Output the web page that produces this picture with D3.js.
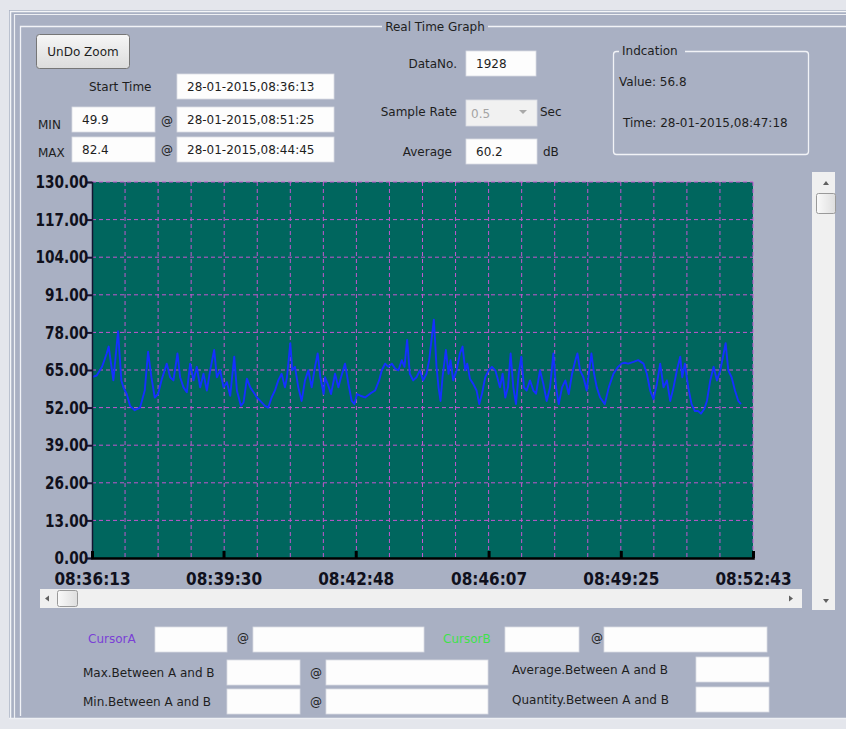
<!DOCTYPE html>
<html>
<head>
<meta charset="utf-8">
<script src="https://cdn.jsdelivr.net/npm/d3@7"></script>
<style>
  body { margin: 0; background: #e4e6ec; }
  svg { display: block; }
  text { font-family: "DejaVu Sans", sans-serif; }
</style>
</head>
<body>
<svg id="chart" width="846" height="729"></svg>
<script>
// ---------------- data ----------------
const chartTitle = "Real Time Graph";
const startTimeText = "28-01-2015,08:36:13";
const minValue = "49.9", minTime = "28-01-2015,08:51:25";
const maxValue = "82.4", maxTime = "28-01-2015,08:44:45";
const dataNo = "1928";
const sampleRate = "0.5";
const averageValue = "60.2";
const indicationValue = "56.8";
const indicationTime = "28-01-2015,08:47:18";

const timeSpanSeconds = 990;           // 08:36:13 -> 08:52:43
const yTickValues = [0, 13, 26, 39, 52, 65, 78, 91, 104, 117, 130];
const xTickLabels = ["08:36:13", "08:39:30", "08:42:48", "08:46:07", "08:49:25", "08:52:43"];
const gridDivisions = 20;

// seconds since start, sound level (dB)
const seconds = [
  0, 7, 15, 22, 25, 32, 39, 44, 47, 52, 57, 64, 72, 79, 84, 89, 94, 99, 104, 112,
  117, 122, 128, 132, 137, 142, 147, 152, 157, 162, 167, 172, 177, 183, 187, 192, 197, 202, 207, 213,
  217, 223, 227, 232, 237, 242, 247, 252, 259, 264, 269, 274, 279, 284, 289, 292, 297, 300, 304, 309,
  314, 319, 324, 329, 334, 338, 342, 347, 349, 353, 358, 364, 369, 373, 379, 384, 389, 393, 397, 402,
  409, 417, 424, 430, 434, 439, 444, 449, 454, 459, 464, 468, 472, 476, 481, 486, 491, 496, 501, 505,
  512, 516, 519, 522, 525, 530, 534, 537, 541, 546, 551, 555, 559, 562, 566, 571, 576, 580, 584, 589,
  594, 599, 604, 607, 611, 615, 619, 623, 627, 631, 635, 639, 643, 647, 651, 656, 661, 665, 671, 676,
  681, 686, 691, 695, 699, 704, 709, 714, 719, 724, 727, 731, 736, 741, 744, 748, 752, 756, 761, 768,
  774, 781, 788, 793, 798, 803, 811, 818, 826, 831, 836, 841, 846, 851, 856, 861, 866, 871, 876, 881,
  884, 888, 893, 898, 903, 908, 912, 917, 921, 926, 931, 936, 941, 946, 949, 953, 958, 963, 968, 972
];
const levels = [
  62.5, 63.1, 66.1, 70.7, 73.1, 61.4, 78.4, 61.4, 59.0, 56.7, 52.6, 51.1, 52.0, 57.9, 71.3, 62.5, 55.5, 56.7, 61.4, 67.2,
  62.5, 61.4, 70.7, 62.5, 59.0, 57.3, 67.2, 61.4, 66.1, 59.0, 63.7, 57.9, 64.9, 71.9, 62.5, 64.9, 59.0, 60.8, 56.1, 69.6,
  57.9, 52.6, 53.8, 62.0, 59.0, 57.3, 55.5, 54.3, 52.6, 52.0, 55.5, 57.9, 61.4, 63.7, 59.0, 62.5, 74.3, 64.9, 66.1, 59.0,
  54.3, 61.4, 64.9, 59.0, 66.1, 70.7, 62.5, 56.7, 62.5, 60.2, 56.7, 63.7, 59.0, 62.5, 67.2, 60.2, 54.3, 53.2, 56.7, 56.1,
  55.5, 56.9, 57.9, 61.4, 64.9, 67.2, 66.1, 67.2, 65.5, 64.9, 68.4, 66.1, 75.4, 63.7, 61.4, 62.5, 64.9, 61.4, 63.7, 68.4,
  82.4, 66.1, 59.0, 54.3, 62.5, 71.9, 63.7, 68.4, 61.4, 64.9, 70.7, 73.1, 64.9, 67.2, 62.0, 60.2, 57.9, 53.2, 56.7, 62.5,
  64.9, 66.1, 64.9, 62.5, 59.0, 63.7, 55.5, 59.0, 70.7, 59.0, 53.2, 63.7, 69.6, 59.0, 57.9, 61.4, 57.9, 56.8, 64.9, 60.2,
  54.3, 59.0, 70.7, 59.0, 53.2, 59.0, 61.4, 56.7, 63.7, 68.4, 70.7, 64.9, 62.5, 57.9, 63.7, 70.7, 63.7, 59.0, 55.5, 53.2,
  59.0, 63.7, 66.1, 67.2, 67.5, 67.2, 67.8, 68.4, 67.2, 63.7, 57.9, 54.9, 60.2, 67.2, 59.0, 61.4, 54.3, 59.0, 64.9, 69.6,
  62.5, 67.2, 59.0, 53.2, 50.8, 50.8, 49.9, 51.5, 54.3, 61.4, 66.1, 61.4, 64.9, 70.7, 74.3, 64.9, 62.5, 57.9, 54.3, 53.2
];

// ---------------- helpers ----------------
const svg = d3.select("#chart");
const PANEL = "#a9b0c3";

function toSec(s) { const p = s.split(":").map(Number); return p[0]*3600 + p[1]*60 + p[2]; }
const t0 = toSec(xTickLabels[0]);
const xTickSecs = xTickLabels.map(l => toSec(l) - t0);

function label(x, y, txt, opts = {}) {
  return svg.append("text").attr("x", x).attr("y", y)
    .attr("font-size", opts.size || 12)
    .attr("fill", opts.color || "#1e1e1e")
    .attr("text-anchor", opts.anchor || "start")
    .attr("dominant-baseline", "central")
    .text(txt);
}
function textbox(x, y, w, h, txt, opts = {}) {
  svg.append("rect").attr("x", x).attr("y", y).attr("width", w).attr("height", h)
    .attr("fill", opts.fill || "#fdfdfd").attr("stroke", "#d9dce4").attr("stroke-width", 0.8);
  if (txt) label(x + (opts.pad || 10), y + h / 2 + 0.5, txt, { color: opts.color });
}

// ---------------- window frame ----------------
svg.append("rect").attr("x", 9).attr("y", 10).attr("width", 837).attr("height", 708).attr("fill", PANEL);
svg.append("path").attr("d", "M10.5,718 V11.5 H846").attr("fill", "none").attr("stroke", "#f4f5f8").attr("stroke-width", 1.5);
svg.append("path").attr("d", "M14.5,718 V14.5 H846").attr("fill", "none").attr("stroke", "#eef0f4").attr("stroke-width", 1.2);
svg.append("path").attr("d", "M9,718.5 H846").attr("stroke", "#eef0f4").attr("stroke-width", 1.5);
// group box
svg.append("path").attr("d", "M20.5,716 V26.5 H846").attr("fill", "none").attr("stroke", "#f2f3f7").attr("stroke-width", 1.3);
svg.append("rect").attr("x", 382).attr("y", 18).attr("width", 106).attr("height", 16).attr("fill", PANEL);
label(435, 27, chartTitle, { anchor: "middle" });

// ---------------- top controls ----------------
const grad = svg.append("defs").append("linearGradient").attr("id", "btn").attr("x1", 0).attr("y1", 0).attr("x2", 0).attr("y2", 1);
grad.append("stop").attr("offset", "0%").attr("stop-color", "#f6f6f6");
grad.append("stop").attr("offset", "100%").attr("stop-color", "#dcdcdc");
svg.append("rect").attr("x", 36.5).attr("y", 34.5).attr("width", 93).attr("height", 34).attr("rx", 3)
  .attr("fill", "url(#btn)").attr("stroke", "#767676");
label(83, 51.5, "UnDo Zoom", { anchor: "middle" });

label(89, 87, "Start Time");
textbox(177, 74, 157, 25, startTimeText);
label(38, 125, "MIN");
textbox(72, 107, 83, 25, minValue);
label(161, 121, "@");
textbox(177, 107, 157, 25, minTime);
label(38, 153, "MAX");
textbox(72, 137, 83, 25, maxValue);
label(161, 150, "@");
textbox(177, 137, 157, 25, maxTime);

label(457, 64, "DataNo.", { anchor: "end" });
textbox(466, 51, 70, 25, dataNo);
label(457, 112, "Sample Rate", { anchor: "end" });
textbox(466, 100, 71, 26, sampleRate, { fill: "#f1f1f1", color: "#a4a4a4", pad: 5 });
svg.append("path").attr("d", "M519,110 h8 l-4,4 z").attr("fill", "#a8a8a8");
label(540, 112, "Sec");
label(452, 152, "Average", { anchor: "end" });
textbox(466, 139, 71, 25, averageValue);
label(543, 152, "dB");

// indication group
svg.append("rect").attr("x", 613.5).attr("y", 51.5).attr("width", 195).attr("height", 103).attr("rx", 3)
  .attr("fill", "none").attr("stroke", "#f2f3f7").attr("stroke-width", 1.3);
svg.append("rect").attr("x", 619).attr("y", 44).attr("width", 66).attr("height", 14).attr("fill", PANEL);
label(622, 51, "Indcation");
label(619, 82, "Value: " + indicationValue);
label(623, 123, "Time: " + indicationTime);

// ---------------- chart ----------------
const plot = { left: 92, right: 753, top: 182, bottom: 558 };
const x = d3.scaleLinear().domain([0, timeSpanSeconds]).range([plot.left, plot.right]);
const y = d3.scaleLinear().domain([0, 130]).range([plot.bottom, plot.top]);

svg.append("rect").attr("x", plot.left).attr("y", plot.top)
  .attr("width", plot.right - plot.left).attr("height", plot.bottom - plot.top).attr("fill", "#00665e");

const GRID = "#c455cf";
const gridSecs = d3.range(1, gridDivisions + 1).map(i => i * timeSpanSeconds / gridDivisions);
svg.append("g").selectAll("line").data(gridSecs).join("line")
  .attr("x1", d => x(d)).attr("x2", d => x(d)).attr("y1", plot.top).attr("y2", plot.bottom)
  .attr("stroke", GRID).attr("stroke-width", 1).attr("stroke-dasharray", "4,3");
svg.append("g").selectAll("line").data(yTickValues.filter(v => v > 0)).join("line")
  .attr("x1", plot.left).attr("x2", plot.right).attr("y1", d => y(d)).attr("y2", d => y(d))
  .attr("stroke", GRID).attr("stroke-width", 1).attr("stroke-dasharray", "4,3");

svg.append("clipPath").attr("id", "clip").append("rect")
  .attr("x", plot.left).attr("y", plot.top).attr("width", plot.right - plot.left).attr("height", plot.bottom - plot.top);
const pts = seconds.map((s, i) => [s, levels[i]]);
svg.append("path").datum(pts).attr("clip-path", "url(#clip)")
  .attr("fill", "none").attr("stroke", "#1430ff").attr("stroke-width", 1.9).attr("stroke-linejoin", "round")
  .attr("d", d3.line().x(d => x(d[0])).y(d => y(d[1])));

// y axis
const yAxis = svg.append("g").attr("transform", `translate(${plot.left},0)`)
  .call(d3.axisLeft(y).tickValues(yTickValues).tickFormat(d3.format(".2f")).tickSize(5).tickPadding(0));
yAxis.select(".domain").attr("stroke", "#141432").attr("stroke-width", 1.5);
yAxis.selectAll(".tick line").attr("stroke", "#141432").attr("stroke-width", 2);
yAxis.selectAll("text").attr("font-family", "Liberation Sans, Arial, sans-serif").attr("font-weight", "bold")
  .attr("font-size", 18).attr("fill", "#10101c").attr("transform", "scale(0.76,1)");

// x axis
const xAxis = svg.append("g").attr("transform", `translate(0,${plot.bottom})`)
  .call(d3.axisBottom(x).tickValues(xTickSecs).tickFormat((d, i) => xTickLabels[i]).tickSize(-7).tickPadding(14));
xAxis.select(".domain").attr("stroke", "#000").attr("stroke-width", 2.5);
xAxis.selectAll(".tick line").attr("stroke", "#000").attr("stroke-width", 3);
xAxis.selectAll("text").attr("font-family", "Liberation Sans, Arial, sans-serif").attr("font-weight", "bold")
  .attr("font-size", 18).attr("fill", "#10101c").attr("transform", "scale(0.85,1)");

// ---------------- scrollbars ----------------
const sg = svg.append("defs").append("linearGradient").attr("id", "thumb").attr("x1", 0).attr("y1", 0).attr("x2", 1).attr("y2", 0);
sg.append("stop").attr("offset", "0%").attr("stop-color", "#fafafa");
sg.append("stop").attr("offset", "100%").attr("stop-color", "#dedede");
svg.append("rect").attr("x", 40).attr("y", 589).attr("width", 762).attr("height", 19).attr("fill", "#f0f0f0");
svg.append("path").attr("d", "M45,598.5 l4,-3 v6 z").attr("fill", "#606060");
svg.append("path").attr("d", "M793,598.5 l-4,-3 v6 z").attr("fill", "#606060");
svg.append("rect").attr("x", 57.5).attr("y", 590.5).attr("width", 20).attr("height", 16).attr("rx", 2)
  .attr("fill", "url(#thumb)").attr("stroke", "#9a9a9a");

svg.append("rect").attr("x", 812).attr("y", 172).attr("width", 23).attr("height", 438).attr("fill", "#f0f0f0");
svg.append("path").attr("d", "M826,181 l3,4 h-6 z").attr("fill", "#606060");
svg.append("path").attr("d", "M826,603 l3,-4 h-6 z").attr("fill", "#606060");
svg.append("rect").attr("x", 816.5).attr("y", 193.5).attr("width", 19).attr("height", 20).attr("rx", 2)
  .attr("fill", "url(#thumb)").attr("stroke", "#9a9a9a");

// ---------------- bottom controls ----------------
label(88, 639, "CursorA", { color: "#7a3fd6" });
textbox(155, 627, 72, 25, "");
label(237, 638, "@");
textbox(253, 627, 171, 25, "");
label(443, 639, "CursorB", { color: "#3ee24a" });
textbox(505, 627, 74, 25, "");
label(591, 638, "@");
textbox(604, 627, 163, 25, "");

label(83, 673, "Max.Between A and B");
textbox(227, 660, 73, 25, "");
label(310, 673, "@");
textbox(326, 660, 162, 25, "");
label(512, 670, "Average.Between A and B");
textbox(696, 657, 73, 25, "");

label(83, 702, "Min.Between A and B");
textbox(227, 689, 73, 25, "");
label(310, 702, "@");
textbox(326, 689, 162, 25, "");
label(512, 700, "Quantity.Between A and B");
textbox(696, 687, 73, 25, "");
</script>
</body>
</html>
